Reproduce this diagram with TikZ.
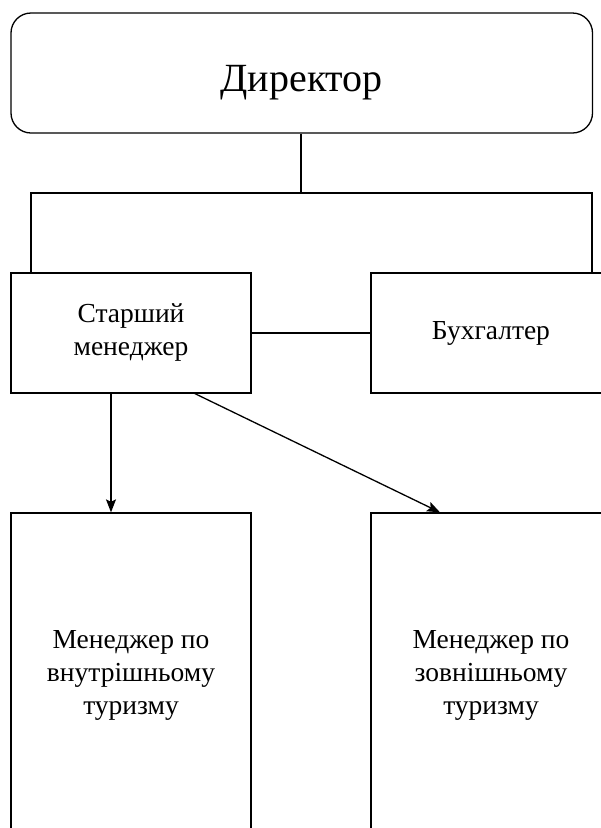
\documentclass[tikz,border=0pt]{standalone}
\usepackage{fontspec}
\setmainfont{Liberation Serif}
\usetikzlibrary{arrows.meta}
\begin{document}
\begin{tikzpicture}[x=1pt,y=-1pt,
  box/.style={draw=black,line width=1.3pt,rectangle,minimum width=240pt,inner sep=0pt,align=center,
    font=\fontsize{27.5}{33}\selectfont},
  conn/.style={draw=black,line width=1.3pt},
  arr/.style={conn,-{Stealth[length=13pt,width=10pt,inset=2.5pt]}}]
\useasboundingbox (0,0) rectangle (601,828);
\fill[white] (0,0) rectangle (601,828);
\begin{scope}
\clip (0,0) rectangle (601,828);
\node[box,minimum width=581.5pt,minimum height=120pt,rounded corners=20pt,
  text height=36pt,text depth=0pt,
  font=\fontsize{40}{48}\selectfont] (dir) at (301.75,73) {Директор};
\node[box,minimum height=120pt] (sm) at (131,333) {Старший\\менеджер};
\node[box,minimum height=120pt] (acc) at (491,333) {Бухгалтер};
\node[box,minimum height=324pt] (m1) at (131,675) {Менеджер по\\внутрішньому\\туризму};
\node[box,minimum height=324pt] (m2) at (491,675) {Менеджер по\\зовнішньому\\туризму};
\coordinate (bus) at (301,193);
\coordinate (lx) at (31,0);
\coordinate (rx) at (592,0);
\coordinate (a1) at (111,0);
\coordinate (d1) at (195,0);
\coordinate (d2) at (440,0);
\draw[conn] (dir.south -| bus) -- (bus);
\draw[conn] (sm.north -| lx) |- (bus) -| (acc.north -| rx);
\draw[conn] (sm.east) -- (acc.west);
\draw[arr] (sm.south -| a1) -- (m1.north -| a1);
\draw[arr] (sm.south -| d1) -- (m2.north -| d2);
\end{scope}
\end{tikzpicture}
\end{document}
